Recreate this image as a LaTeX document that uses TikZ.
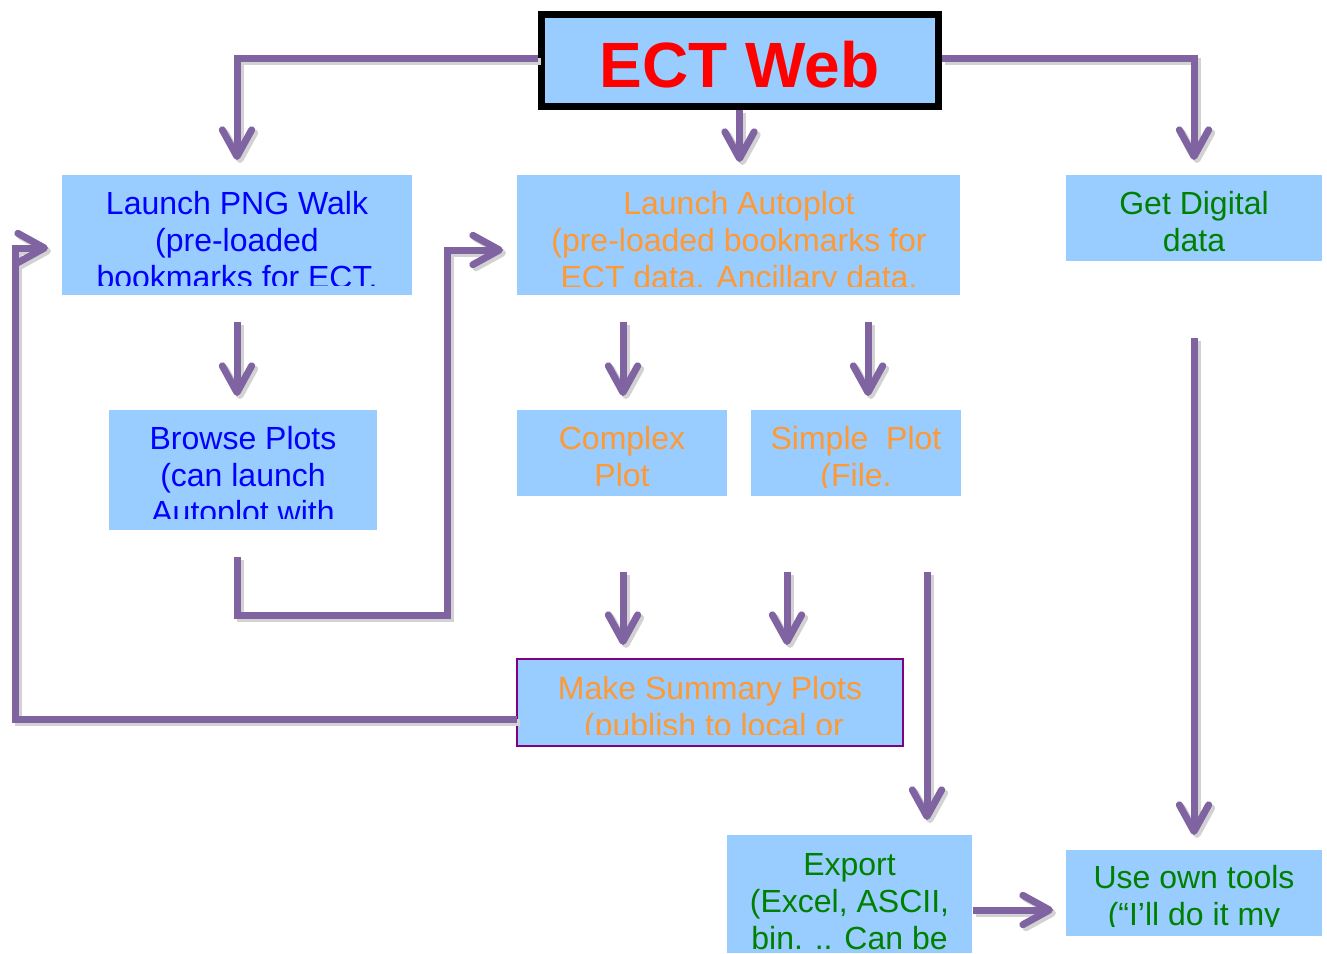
\documentclass[tikz,border=0pt]{standalone}
\usepackage{fontspec}
\setmainfont{Liberation Sans}
\usetikzlibrary{arrows.meta,calc}
\definecolor{boxblue}{HTML}{99CCFF}
\definecolor{txtblue}{HTML}{0000FF}
\definecolor{txtorange}{HTML}{FF9933}
\definecolor{txtgreen}{HTML}{008000}
\definecolor{arrowpurple}{HTML}{8064A2}
\definecolor{shadowgray}{HTML}{D2D2D2}
\definecolor{sumborder}{HTML}{800080}
\begin{document}
\begin{tikzpicture}[x=0.75pt,y=-0.75pt,
  box/.style={rectangle, fill=boxblue, inner sep=0pt, outer sep=0pt},
  lntxt/.style={anchor=base, inner sep=0pt, font=\fontsize{24}{28}\selectfont},
  bltxt/.style={lntxt, text=txtblue},
  ortxt/.style={lntxt, text=txtorange},
  grtxt/.style={lntxt, text=txtgreen},
  shadowdraw/.style={draw=shadowgray, line width=5.25pt, line join=miter, line cap=butt,
    transform canvas={shift={(2.25pt,-2.25pt)}}},
  conn/.style={draw=arrowpurple, line width=5.25pt, line join=miter, line cap=butt,
    preaction={shadowdraw}},
  arrowconn/.style={draw=arrowpurple, line width=5.25pt, line join=miter, line cap=butt,
    -{Straight Barb[length=20pt,width=22pt,round]},
    preaction={shadowdraw, -{Straight Barb[length=20pt,width=22pt,round]}}},
]
\fill[white] (0,0) rectangle (1327,953);
\useasboundingbox (0,0) rectangle (1327,953);

% boxes
\node[box, draw=black, line width=5.25pt, outer sep=2.625pt, minimum width=297.75pt, minimum height=69pt] (ect) at (739.5,60) {};
\node[anchor=base, inner sep=0pt, font=\fontsize{48}{56}\selectfont\bfseries, text=red] (ecttxt) at (739.5,87) {ECT Web};

\node[box, minimum width=262.5pt, minimum height=90pt] (png) at (237,235) {};
\node[box, minimum width=332.25pt, minimum height=90pt] (auto) at (738.5,235) {};
\node[box, minimum width=192pt, minimum height=64.5pt] (dig) at (1194,218) {};
\node[box, minimum width=201pt, minimum height=90pt] (browse) at (243,470) {};
\node[box, minimum width=157.5pt, minimum height=64.5pt] (cplx) at (622,453) {};
\node[box, minimum width=157.5pt, minimum height=64.5pt] (simp) at (856,453) {};
\node[box, draw=sumborder, line width=1.5pt, minimum width=289.5pt, minimum height=65.25pt] (sum) at (710,702.5) {};
\node[box, minimum width=183.75pt, minimum height=88.5pt] (exp) at (849.5,894) {};
\node[box, minimum width=192pt, minimum height=64.5pt] (own) at (1194,893) {};

% texts (clipped like the original text boxes)
\begin{scope}
\clip (png.north west) rectangle ($(png.south east)+(0,-10)$);
\node[bltxt] (png1) at (237,214) {Launch PNG Walk};
\node[bltxt] (png2) at (237,251) {(pre-loaded};
\node[bltxt] (png3) at (237,288) {bookmarks for ECT.};
\end{scope}
\begin{scope}
\clip (auto.north west) rectangle ($(auto.south east)+(0,-9)$);
\node[ortxt] (auto1) at (739,214) {Launch Autoplot};
\node[ortxt] (auto2) at (739,251) {(pre-loaded bookmarks for};
\node[ortxt] (auto3) at (739,288) {ECT data. Ancillary data.};
\end{scope}
\begin{scope}
\clip (dig.north west) rectangle (dig.south east);
\node[grtxt] (dig1) at (1194,214) {Get Digital};
\node[grtxt] (dig2) at (1194,251) {data};
\end{scope}
\begin{scope}
\clip (browse.north west) rectangle ($(browse.south east)+(0,-12)$);
\node[bltxt] (br1) at (243,449) {Browse Plots};
\node[bltxt] (br2) at (243,486) {(can launch};
\node[bltxt] (br3) at (243,523) {Autoplot with};
\end{scope}
\begin{scope}
\clip (cplx.north west) rectangle ($(cplx.south east)+(0,-9)$);
\node[ortxt] (cp1) at (622,449) {Complex};
\node[ortxt] (cp2) at (622,486) {Plot};
\end{scope}
\begin{scope}
\clip (simp.north west) rectangle ($(simp.south east)+(0,-9)$);
\node[ortxt] (sp1) at (856,449) {Simple\ \ Plot};
\node[ortxt] (sp2) at (856,486) {(File.};
\end{scope}
\begin{scope}
\clip (sum.north west) rectangle ($(sum.south east)+(0,-12)$);
\node[ortxt] (sm1) at (710,699) {Make Summary Plots};
\node[ortxt] (sm2) at (714,736) {(publish to local or};
\end{scope}
\begin{scope}
\clip (exp.north west) rectangle (exp.south east);
\node[grtxt] (ex1) at (849.5,875) {Export};
\node[grtxt] (ex2) at (849.5,912) {(Excel, ASCII,};
\node[grtxt] (ex3) at (849.5,949) {bin. .. Can be};
\end{scope}
\begin{scope}
\clip (own.north west) rectangle ($(own.south east)+(0,-10)$);
\node[grtxt] (ow1) at (1194,888) {Use own tools};
\node[grtxt] (ow2) at (1194,925) {(“I’ll do it my};
\end{scope}

% connectors
\coordinate (turnA) at (447,615);
\coordinate (turnB) at (15,248);
\draw[arrowconn] ($(ect.west)+(0,-2)$) -| ($(png.north)+(0,-15)$);
\draw[arrowconn] (ect.south) -- ($(ect.south |- auto.north)+(0,-13)$);
\draw[arrowconn] ($(ect.east)+(0,-2)$) -| ($(dig.north)+(0,-15)$);
\draw[arrowconn] ($(png.south)+(0,27)$) -- ($(png.south |- browse.north)+(0,-14)$);
\draw[arrowconn] ($(cplx.north |- auto.south)+(1,27)$) -- ($(cplx.north)+(1,-14)$);
\draw[arrowconn] ($(simp.north |- auto.south)+(12,27)$) -- ($(simp.north)+(12,-14)$);
\draw[arrowconn] ($(browse.south)+(-6,27)$) |- (turnA) |- ($(auto.west)+(-14,15)$);
\draw[arrowconn] ($(cplx.south)+(1,76)$) -- ($(cplx.south |- sum.north)+(1,-14)$);
\draw[arrowconn] ($(simp.south)+(-69,76)$) -- ($(simp.south |- sum.north)+(-69,-14)$);
\draw[arrowconn] ($(simp.south)+(71,76)$) -- ($(simp.south |- exp.north)+(71,-15)$);
\draw[arrowconn] ($(dig.south)+(0,77)$) -- ($(own.north)+(0,-15)$);
\draw[arrowconn] ($(exp.east)+(1,16)$) -- ($(exp.east -| own.west)+(-13,16)$);
\draw[arrowconn] ($(sum.west)+(0,16.5)$) -| (turnB) -- ($(png.west)+(-14,13)$);
\end{tikzpicture}
\end{document}
